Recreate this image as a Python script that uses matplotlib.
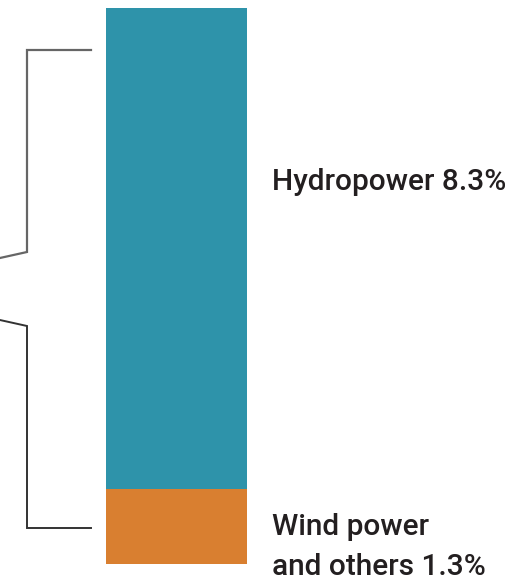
import matplotlib
matplotlib.use('Agg')
import matplotlib.pyplot as plt

# stacked share values (%)
sources = ['Wind power\nand others', 'Hydropower']
shares = [1.3, 8.3]
colors = ['#d97f30', '#2e93aa']

plt.rcParams['font.family'] = ['Roboto', 'DejaVu Sans']

fig = plt.figure(figsize=(5.24, 5.80), dpi=100)
ax = fig.add_axes([0, 0, 1, 1])

# bar: 0% at pixel 564, total at pixel 8
px_per_pct = (564 - 8) / sum(shares)
ax.set_xlim(0, 524)
ax.set_ylim(-(580 - 564) / px_per_pct, sum(shares) + 8 / px_per_pct)

bottom = 0
for name, val, col in zip(sources, shares, colors):
    ax.bar(176.5, val, width=141, bottom=bottom, color=col, linewidth=0)
    bottom += val
ax.axis('off')

# overlay in pixel coordinates for bracket and labels
ov = fig.add_axes([0, 0, 1, 1])
ov.set_xlim(0, 524)
ov.set_ylim(580, 0)
ov.axis('off')
ov.patch.set_alpha(0)

ov.plot([91, 27, 27, -140], [50, 50, 252, 289], color='#666666', lw=1.6,
        solid_joinstyle='miter')
ov.plot([-140, 27, 27, 91], [289, 326, 528, 528], color='#333333', lw=1.4,
        solid_joinstyle='miter')

txt = dict(color='#231f20', fontsize=21.5, fontweight='medium',
           va='baseline', ha='left')
ov.text(272, 190, 'Hydropower %.1f%%' % shares[1], **txt)
wind = (sources[0] + ' %.1f%%' % shares[0]).split('\n')
for i, line in enumerate(wind):
    ov.text(272, 535 + 40 * i, line, **txt)

fig.savefig('out.png', dpi=100)
